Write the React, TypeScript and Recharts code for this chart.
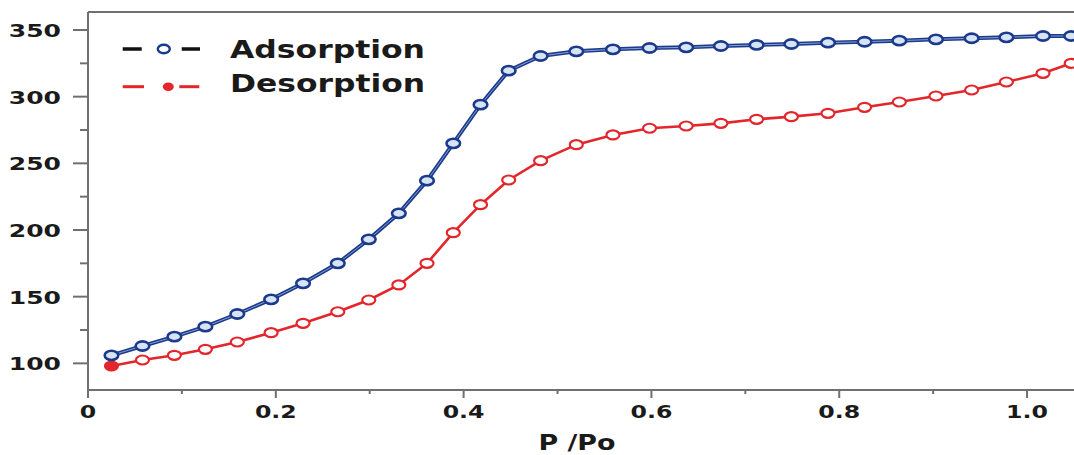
import { LineChart, Line, XAxis, YAxis, Legend, ReferenceLine } from "recharts";

// relative pressure P/Po, shared by both branches
const relPressure = [
  0.025, 0.058, 0.092, 0.125, 0.159, 0.195, 0.229, 0.266, 0.299, 0.331,
  0.361, 0.389, 0.418, 0.448, 0.482, 0.52, 0.559, 0.598, 0.637, 0.674,
  0.712, 0.749, 0.788, 0.827, 0.864, 0.903, 0.941, 0.978, 1.017, 1.047,
];
const adsorption = [
  106, 113, 120, 127.5, 137, 148, 160, 175, 193, 212.5,
  237, 265, 294, 319.5, 330.5, 334, 335.5, 336.5, 337, 338,
  338.8, 339.5, 340.5, 341.2, 342, 343, 343.8, 344.5, 345.5, 345.5,
];
const desorption = [
  98, 102.5, 106, 110.5, 116, 123, 130, 138.7, 147.5, 158.8,
  175, 198, 219, 237.5, 252, 264, 271.3, 276.3, 278, 280,
  283, 285, 287.5, 292, 296, 300.5, 305, 311, 317.5, 325,
];
const xTicks = [0, 0.1, 0.2, 0.3, 0.4, 0.5, 0.6, 0.7, 0.8, 0.9, 1.0];
const yTicks = [100, 125, 150, 175, 200, 225, 250, 275, 300, 325, 350];

const BLUE = "#1b3a8c";
const RED = "#e2262b";
const AXIS = "#707070";
const FONT = "DejaVu Sans";
const STRETCH = 1.39; // source image is widened horizontally

const rows = relPressure.map((p, i) => ({ p, ads: adsorption[i], des: desorption[i] }));

function XTick({ x, y, payload }: any) {
  const v: number = payload.value;
  const major = Math.round(v * 10) % 2 === 0;
  return (
    <g>
      <line x1={x} y1={y} x2={x} y2={y + (major ? 8 : 4)} stroke={AXIS} strokeWidth={2} />
      {major && (
        <text
          transform={`translate(${x},${y + 28}) scale(${STRETCH},1)`}
          textAnchor="middle"
          fontFamily={FONT}
          fontWeight="bold"
          fontSize={17}
          fill="#1a1a1a"
        >
          {v === 0 ? "0" : v.toFixed(1)}
        </text>
      )}
    </g>
  );
}

function YTick({ x, y, payload }: any) {
  const v: number = payload.value;
  const major = v % 50 === 0;
  return (
    <g>
      <line x1={x - (major ? 15 : 8)} y1={y} x2={x} y2={y} stroke={AXIS} strokeWidth={2} />
      {major && (
        <text
          transform={`translate(${x - 27},${y + 7}) scale(${STRETCH},1)`}
          textAnchor="end"
          fontFamily={FONT}
          fontWeight="bold"
          fontSize={18}
          fill="#1a1a1a"
        >
          {v}
        </text>
      )}
    </g>
  );
}

// axis title, stretched like the tick labels
function XTitle({ viewBox }: any) {
  const cx = 577;
  const by = viewBox.y + 60;
  return (
    <text
      x={cx - 38.5}
      y={by}
      textLength={77}
      lengthAdjust="spacingAndGlyphs"
      fontFamily={FONT}
      fontWeight="bold"
      fontSize={21}
      fill="#1a1a1a"
    >
      P /Po
    </text>
  );
}

const adsDot = ({ cx, cy, index }: any) => (
  <ellipse key={`a${index}`} cx={cx} cy={cy} rx={6.8} ry={4.6} fill="#d6e4f6" stroke={BLUE} strokeWidth={2.6} />
);

const desDot = ({ cx, cy, index }: any) => (
  <ellipse
    key={`d${index}`}
    cx={cx}
    cy={cy}
    rx={6.5}
    ry={4.5}
    fill={index === 0 ? RED : "#ffffff"}
    stroke={RED}
    strokeWidth={2.2}
  />
);

function LegendBox() {
  return (
    <svg width={340} height={80}>
      <line x1={22.7} y1={24} x2={41.7} y2={24} stroke="#111" strokeWidth={3.5} />
      <ellipse cx={63.8} cy={24} rx={6} ry={4.2} fill="#fff" stroke={BLUE} strokeWidth={2.4} />
      <line x1={81.7} y1={24} x2={100} y2={24} stroke="#111" strokeWidth={3.5} />
      <text x={130} y={33} textLength={195} lengthAdjust="spacingAndGlyphs" fontFamily={FONT} fontWeight="bold" fontSize={24} fill="#1a1a1a">
        Adsorption
      </text>
      <line x1={22.7} y1={61.7} x2={44} y2={61.7} stroke={RED} strokeWidth={3} />
      <ellipse cx={68.3} cy={61.7} rx={5.5} ry={4.2} fill={RED} />
      <line x1={79.3} y1={61.7} x2={99.3} y2={61.7} stroke={RED} strokeWidth={3} />
      <text x={130} y={67} textLength={195} lengthAdjust="spacingAndGlyphs" fontFamily={FONT} fontWeight="bold" fontSize={24} fill="#1a1a1a">
        Desorption
      </text>
    </svg>
  );
}

export default function App() {
  return (
    <div style={{ position: "absolute", left: 0, top: 0, width: 1074, height: 455, background: "#fff" }}>
      <LineChart width={1074} height={455} data={rows} margin={{ top: 12, right: 0, bottom: 0, left: 0 }}>
        <XAxis
          dataKey="p"
          type="number"
          domain={[0, 1.05]}
          allowDataOverflow
          ticks={xTicks}
          interval={0}
          height={65}
          tickSize={0}
          tickMargin={0}
          tickLine={false}
          axisLine={{ stroke: AXIS, strokeWidth: 2 }}
          tick={<XTick />}
          label={<XTitle />}
        />
        <YAxis
          type="number"
          domain={[80, 363.5]}
          allowDataOverflow
          ticks={yTicks}
          interval={0}
          width={88}
          tickSize={0}
          tickMargin={0}
          tickLine={false}
          axisLine={{ stroke: AXIS, strokeWidth: 2 }}
          tick={<YTick />}
        />
        <ReferenceLine y={363.5} stroke={AXIS} strokeWidth={2} />
        <Legend
          layout="vertical"
          align="center"
          verticalAlign="middle"
          wrapperStyle={{ left: 100, top: 25, width: 340, height: 80 }}
          content={() => <LegendBox />}
        />
        <Line dataKey="des" name="Desorption" stroke={RED} strokeWidth={2.6} dot={desDot} activeDot={false} isAnimationActive={false} />
        <Line dataKey="ads" name="Adsorption" stroke={BLUE} strokeWidth={4} dot={false} activeDot={false} isAnimationActive={false} />
        <Line dataKey="ads" name="ads-core" stroke="#9fb8e2" strokeWidth={0.8} dot={adsDot} activeDot={false} legendType="none" isAnimationActive={false} />
      </LineChart>
    </div>
  );
}
